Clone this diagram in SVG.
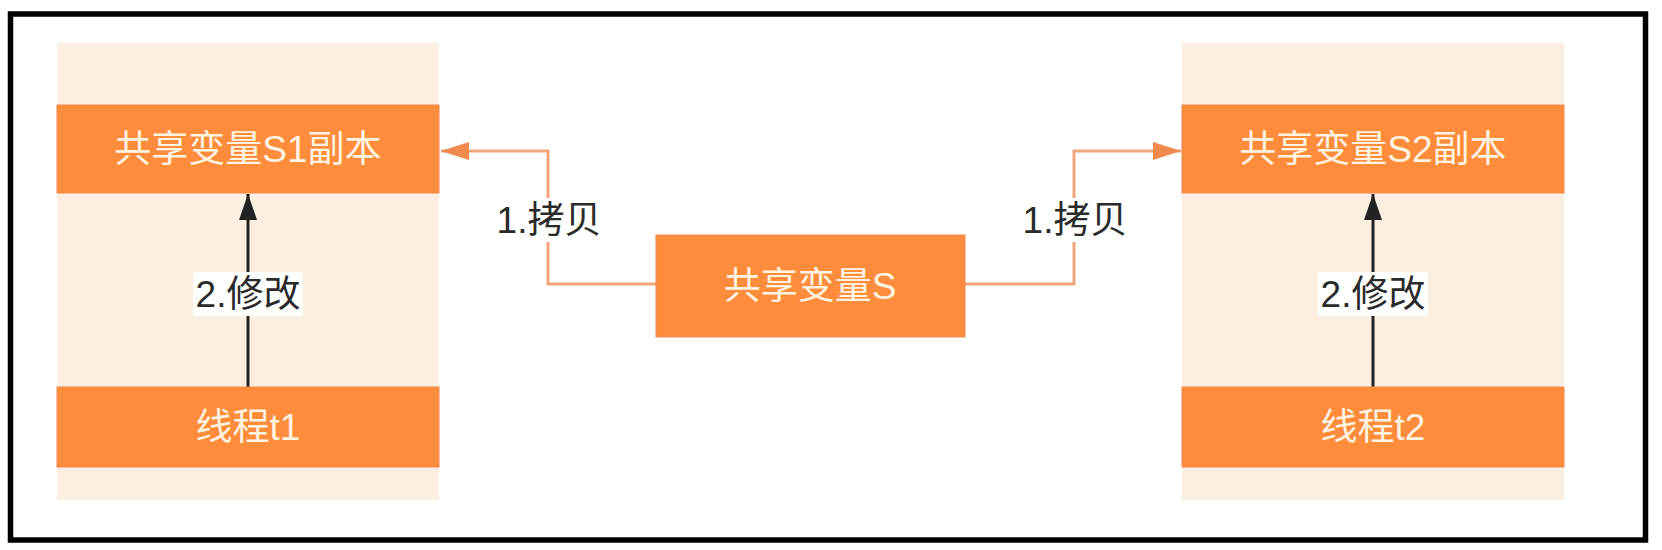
<svg xmlns="http://www.w3.org/2000/svg" width="1662" height="550" viewBox="0 0 1662 550">
  <style>
    .panel { fill: #fdeee2; }
    .box { fill: #fe8c3c; stroke: #ec8a4c; stroke-width: 1; }
    .boxtext { font-family: "Liberation Sans", "Noto Sans CJK SC", sans-serif; font-size: 37px; fill: #fff4e0; text-anchor: middle; dominant-baseline: central; }
    .label { font-family: "Liberation Sans", "Noto Sans CJK SC", sans-serif; font-size: 37px; fill: #2a2a2a; text-anchor: middle; dominant-baseline: central; }
    .labelbg { fill: #ffffff; }
    .copy { fill: none; stroke: #f2a57a; stroke-width: 3; }
    .modify { fill: none; stroke: #222222; stroke-width: 3; }
  </style>
  <defs>
    <marker id="arrOrange" markerUnits="userSpaceOnUse" markerWidth="28" markerHeight="18" refX="28" refY="9" orient="auto" viewBox="0 0 28 18">
      <path d="M0,0 L28,9 L0,18 Z" fill="#f08a4e"/>
    </marker>
    <marker id="arrBlack" markerUnits="userSpaceOnUse" markerWidth="26" markerHeight="18" refX="26" refY="9" orient="auto" viewBox="0 0 26 18">
      <path d="M0,0 L26,9 L0,18 Z" fill="#222222"/>
    </marker>
  </defs>
  <rect width="1662" height="550" fill="#ffffff"/>
  <rect x="10.5" y="14" width="1635" height="526" fill="none" stroke="#000000" stroke-width="5.5"/>

  <g id="panel-left"><rect class="panel" x="57" y="43" width="382" height="457"/></g>
  <g id="panel-right"><rect class="panel" x="1182" y="43" width="382" height="457"/></g>

  <g id="connectors">
    <path class="copy" d="M656,284 H548 V151 H441" marker-end="url(#arrOrange)"/>
    <path class="copy" d="M965,284 H1074 V151 H1181" marker-end="url(#arrOrange)"/>
    <path class="modify" d="M248,387 V194" marker-end="url(#arrBlack)"/>
    <path class="modify" d="M1373,387 V194" marker-end="url(#arrBlack)"/>
    <g id="label-copy-left"><rect class="labelbg" x="495" y="198" width="108" height="44"/><text class="label" x="549" y="220">1.拷贝</text></g>
    <g id="label-copy-right"><rect class="labelbg" x="1021" y="198" width="108" height="44"/><text class="label" x="1075" y="220">1.拷贝</text></g>
    <g id="label-modify-left"><rect class="labelbg" x="193" y="272" width="110" height="44"/><text class="label" x="248" y="294">2.修改</text></g>
    <g id="label-modify-right"><rect class="labelbg" x="1318" y="272" width="110" height="44"/><text class="label" x="1373" y="294">2.修改</text></g>
  </g>

  <g id="node-s1"><rect class="box" x="57" y="105" width="382" height="88"/><text class="boxtext" x="248" y="149">共享变量S1副本</text></g>
  <g id="node-t1"><rect class="box" x="57" y="387" width="382" height="80"/><text class="boxtext" x="248" y="427">线程t1</text></g>
  <g id="node-s"><rect class="box" x="656" y="235" width="309" height="102"/><text class="boxtext" x="810" y="286">共享变量S</text></g>
  <g id="node-s2"><rect class="box" x="1182" y="105" width="382" height="88"/><text class="boxtext" x="1373" y="149">共享变量S2副本</text></g>
  <g id="node-t2"><rect class="box" x="1182" y="387" width="382" height="80"/><text class="boxtext" x="1373" y="427">线程t2</text></g>
</svg>
